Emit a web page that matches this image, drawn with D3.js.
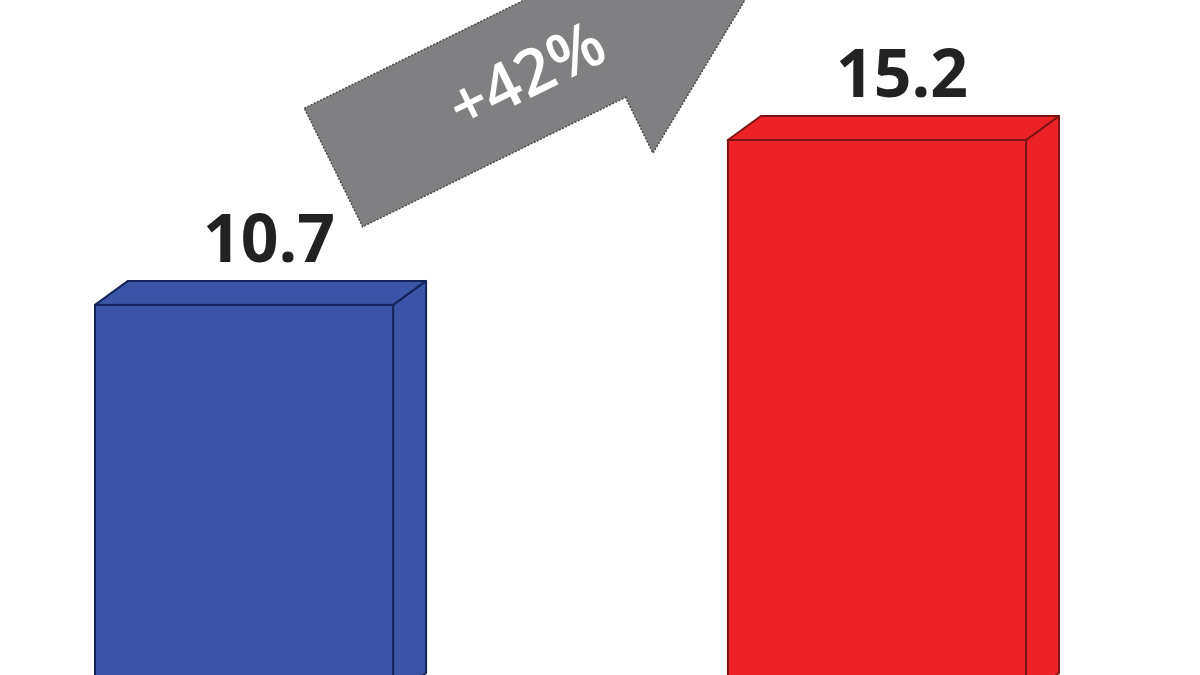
<!DOCTYPE html>
<html><head><meta charset="utf-8">
<script src="https://cdn.jsdelivr.net/npm/d3@7/dist/d3.min.js"></script>
<style>html,body{margin:0;padding:0;background:#fff;overflow:hidden}</style>
</head><body>
<svg id="c" width="1200" height="675"></svg>
<script>
const categories = ["Before", "After"];
const values = [10.7, 15.2];
const valueLabels = ["10.7", "15.2"];
const changeLabel = "+42%";
const fills = ["#3a55a5", "#ec2227"];
const strokes = ["#16245a", "#7d1414"];

const svg = d3.select("#c");
const x = d3.scaleBand().domain(categories).range([95, 1026]).paddingInner(0.529).paddingOuter(0);
const y = d3.scaleLinear().domain([0, 15.2]).range([697, 140]);
const dx = 33, dy = -24;
const bw = x.bandwidth();

const g = svg.append("g");
categories.forEach((c, i) => {
  const x0 = x(c), x1 = x0 + bw, yt = y(values[i]), yb = y(0);
  const bar = g.append("g");
  // side face
  bar.append("path")
    .attr("d", `M${x1},${yt}L${x1+dx},${yt+dy}L${x1+dx},${yb+dy}L${x1},${yb}Z`)
    .attr("fill", fills[i]).attr("stroke", strokes[i]).attr("stroke-width", 2).attr("stroke-linejoin", "round");
  // top face
  bar.append("path")
    .attr("d", `M${x0},${yt}L${x0+dx},${yt+dy}L${x1+dx},${yt+dy}L${x1},${yt}Z`)
    .attr("fill", fills[i]).attr("stroke", strokes[i]).attr("stroke-width", 2).attr("stroke-linejoin", "round");
  // front face
  bar.append("rect")
    .attr("x", x0).attr("y", yt).attr("width", bw).attr("height", yb - yt)
    .attr("fill", fills[i]).attr("stroke", strokes[i]).attr("stroke-width", 2);
  // value label
  svg.append("text")
    .attr("x", x0 + bw / 2 + 25).attr("y", yt - 43)
    .attr("text-anchor", "middle")
    .attr("font-family", "'Open Sans', sans-serif").attr("font-weight", 700)
    .attr("font-size", 66).attr("fill", "#222")
    .text(valueLabels[i]);
});

// change arrow
const ang = -26.2 * Math.PI / 180;
const ux = Math.cos(ang), uy = Math.sin(ang);
const nx = -uy, ny = ux;
const ox = 333.5, oy = 167.5;
const P = (s, t) => [ox + s * ux + t * nx, oy + s * uy + t * ny];
const half = 66, neck = 293, headHalf = 128, tip = 492;
const pts = [P(0, -half), P(neck, -half), P(neck, -headHalf), P(tip, 0), P(neck, headHalf), P(neck, half), P(0, half)];
svg.append("path")
  .attr("d", "M" + pts.map(p => p.join(",")).join("L") + "Z")
  .attr("fill", "#808082").attr("stroke", "#4a4a4a").attr("stroke-width", 1.5)
  .attr("stroke-dasharray", "2,1.5").attr("stroke-linejoin", "miter");
const tc = P(214, 0);
svg.append("text")
  .attr("transform", `translate(${tc[0]},${tc[1]}) rotate(${-26.2})`)
  .attr("text-anchor", "middle").attr("dominant-baseline", "central")
  .attr("font-family", "'Open Sans', sans-serif").attr("font-weight", 600)
  .attr("font-size", 64).attr("fill", "#fff")
  .text(changeLabel);
</script>
</body></html>
